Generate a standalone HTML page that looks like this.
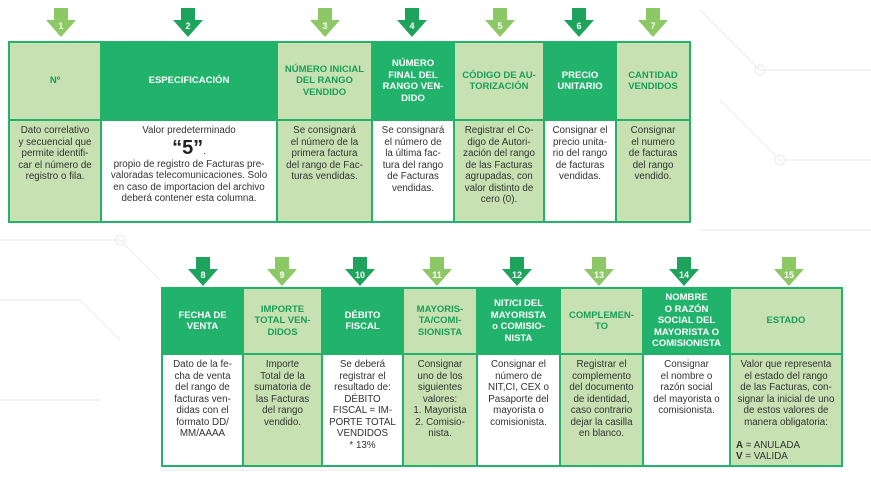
<!DOCTYPE html>
<html><head><meta charset="utf-8"><style>
body{margin:0;width:871px;height:482px;background:#fff;position:relative;overflow:hidden;font-family:"Liberation Sans",sans-serif}
.c{position:absolute;box-sizing:border-box;border:2px solid #22b26a;display:flex;align-items:center;justify-content:center;text-align:center;padding:2px 1px;white-space:nowrap}
.h{font-weight:bold;font-size:9.5px;line-height:11.5px}
.d{background:#21b36b;color:#fff}
.l{background:#c7e1b3;color:#1a9f58}
.b{font-size:9.8px;line-height:11.5px;color:#333;align-items:flex-start;padding-top:4px}
.w{background:#fff}
.lb{background:#c7e1b3}
.a{position:absolute}
.a .s{position:absolute;left:50%;margin-left:-7px;width:14px;height:14px;top:0}
.a .t{position:absolute;left:50%;margin-left:-15px;top:12px;width:0;height:0;border-left:15px solid transparent;border-right:15px solid transparent}
.a span{position:absolute;width:30px;left:50%;margin-left:-15px;top:13px;text-align:center;color:#fff;font-weight:bold;font-size:9px}
</style></head><body>
<svg width="871" height="482" style="position:absolute;left:0;top:0" fill="none" stroke="#f2f3f2" stroke-width="2">
<path d="M700 10 L760 70 L871 70 M720 100 L780 160 L871 160 M0 240 L120 240 L160 280 M0 300 L80 300 L120 340 M0 400 L100 400 M700 230 L871 230 M160 470 L400 470"/>
<circle cx="760" cy="70" r="5"/><circle cx="780" cy="160" r="5"/><circle cx="120" cy="240" r="5"/>
</svg>
<script>
function arrow(cx,top,dark,n){var col=dark?'#1da35c':'#8cc865';document.write('<div class="a" style="left:'+(cx-15)+'px;top:'+top+'px;width:30px;height:30px"><div class="s" style="background:'+col+'"></div><div class="t" style="border-top:17px solid '+col+'"></div><span>'+n+'</span></div>');}
arrow(61,8,0,1);arrow(188,8,1,2);arrow(325,8,0,3);arrow(412,8,1,4);arrow(500,8,0,5);arrow(579,8,1,6);arrow(653,8,0,7);
arrow(203,257,1,8);arrow(282,257,0,9);arrow(360,257,1,10);arrow(437,257,0,11);arrow(517,257,1,12);arrow(599,257,0,13);arrow(684,257,1,14);arrow(789,257,0,15);
</script>
<!-- top table -->
<div class="c h l" style="left:8px;top:41px;width:94px;height:80px">Nº</div>
<div class="c h d" style="left:100px;top:41px;width:178px;height:80px">ESPECIFICACIÓN</div>
<div class="c h l" style="left:276px;top:41px;width:97px;height:80px">NÚMERO INICIAL<br>DEL RANGO<br>VENDIDO</div>
<div class="c h d" style="left:371px;top:41px;width:84px;height:80px">NÚMERO<br>FINAL DEL<br>RANGO VEN-<br>DIDO</div>
<div class="c h l" style="left:453px;top:41px;width:92px;height:80px">CÓDIGO DE AU-<br>TORIZACIÓN</div>
<div class="c h d" style="left:543px;top:41px;width:74px;height:80px">PRECIO<br>UNITARIO</div>
<div class="c h l" style="left:615px;top:41px;width:76px;height:80px">CANTIDAD<br>VENDIDOS</div>
<div class="c b lb" style="left:8px;top:119px;width:94px;height:104px">Dato correlativo<br>y secuencial que<br>permite identifi-<br>car el número de<br>registro o fila.</div>
<div class="c b w" style="left:100px;top:119px;width:178px;height:104px;display:block">Valor predeterminado<br><span style="font-size:20px;font-weight:bold;line-height:22px;color:#222">“5”</span>.<br>propio de registro de Facturas pre-<br>valoradas telecomunicaciones. Solo<br>en caso de importacion del archivo<br>deberá contener esta columna.</div>
<div class="c b lb" style="left:276px;top:119px;width:97px;height:104px">Se consignará<br>el número de la<br>primera factura<br>del rango de Fac-<br>turas vendidas.</div>
<div class="c b w" style="left:371px;top:119px;width:84px;height:104px">Se consignará<br>el número de<br>la última fac-<br>tura del rango<br>de Facturas<br>vendidas.</div>
<div class="c b lb" style="left:453px;top:119px;width:92px;height:104px">Registrar el Co-<br>digo de Autori-<br>zación del rango<br>de las Facturas<br>agrupadas, con<br>valor distinto de<br>cero (0).</div>
<div class="c b w" style="left:543px;top:119px;width:74px;height:104px">Consignar el<br>precio unita-<br>rio del rango<br>de facturas<br>vendidas.</div>
<div class="c b lb" style="left:615px;top:119px;width:76px;height:104px">Consignar<br>el numero<br>de facturas<br>del rango<br>vendido.</div>
<!-- bottom table -->
<div class="c h d" style="left:161px;top:287px;width:83px;height:68px">FECHA DE<br>VENTA</div>
<div class="c h l" style="left:242px;top:287px;width:81px;height:68px">IMPORTE<br>TOTAL VEN-<br>DIDOS</div>
<div class="c h d" style="left:321px;top:287px;width:83px;height:68px">DÉBITO<br>FISCAL</div>
<div class="c h l" style="left:402px;top:287px;width:76px;height:68px">MAYORIS-<br>TA/COMI-<br>SIONISTA</div>
<div class="c h d" style="left:476px;top:287px;width:85px;height:68px">NIT/CI DEL<br>MAYORISTA<br>o COMISIO-<br>NISTA</div>
<div class="c h l" style="left:559px;top:287px;width:85px;height:68px">COMPLEMEN-<br>TO</div>
<div class="c h d" style="left:642px;top:287px;width:89px;height:68px">NOMBRE<br>O RAZÓN<br>SOCIAL DEL<br>MAYORISTA O<br>COMISIONISTA</div>
<div class="c h l" style="left:729px;top:287px;width:114px;height:68px">ESTADO</div>
<div class="c b w" style="left:161px;top:353px;width:83px;height:114px">Dato de la fe-<br>cha de venta<br>del rango de<br>facturas ven-<br>didas con el<br>formato DD/<br>MM/AAAA</div>
<div class="c b lb" style="left:242px;top:353px;width:81px;height:114px">Importe<br>Total de la<br>sumatoria de<br>las Facturas<br>del rango<br>vendido.</div>
<div class="c b w" style="left:321px;top:353px;width:83px;height:114px">Se deberá<br>registrar el<br>resultado de:<br>DÉBITO<br>FISCAL = IM-<br>PORTE TOTAL<br>VENDIDOS<br>* 13%</div>
<div class="c b lb" style="left:402px;top:353px;width:76px;height:114px">Consignar<br>uno de los<br>siguientes<br>valores:<br>1. Mayorista<br>2. Comisio-<br>nista.</div>
<div class="c b w" style="left:476px;top:353px;width:85px;height:114px">Consignar el<br>número de<br>NIT,CI, CEX o<br>Pasaporte del<br>mayorista o<br>comisionista.</div>
<div class="c b lb" style="left:559px;top:353px;width:85px;height:114px">Registrar el<br>complemento<br>del documento<br>de identidad,<br>caso contrario<br>dejar la casilla<br>en blanco.</div>
<div class="c b w" style="left:642px;top:353px;width:89px;height:114px">Consignar<br>el nombre o<br>razón social<br>del mayorista o<br>comisionista.</div>
<div class="c b lb" style="left:729px;top:353px;width:114px;height:114px;display:block">Valor que representa<br>el estado del rango<br>de las Facturas, con-<br>signar la inicial de uno<br>de estos valores de<br>manera obligatoria:<br><br><div style="text-align:left;padding-left:4px"><b>A</b> = ANULADA<br><b>V</b> = VALIDA</div></div>
</body></html>
